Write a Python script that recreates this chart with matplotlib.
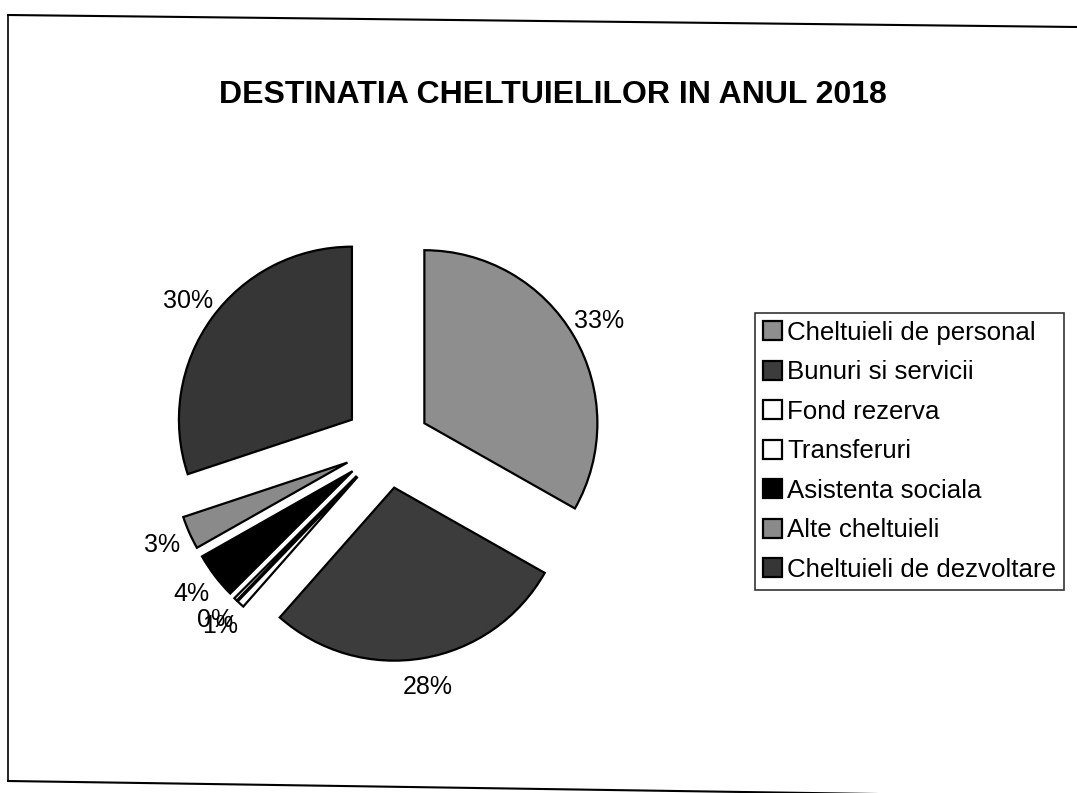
import matplotlib
matplotlib.use("Agg")
from matplotlib import pyplot as plt
from matplotlib.lines import Line2D

plt.rcParams['font.family'] = ['Liberation Sans', 'DejaVu Sans']

# data
categorii = ['Cheltuieli de personal', 'Bunuri si servicii', 'Fond rezerva',
             'Transferuri', 'Asistenta sociala', 'Alte cheltuieli',
             'Cheltuieli de dezvoltare']
procente = [33.2, 28.3, 0.7, 0.3, 4.3, 3.1, 30.1]
culori = ['#8e8e8e', '#3c3c3c', 'white', 'white', 'black', '#8a8a8a', '#363636']
titlu = 'DESTINATIA CHELTUIELILOR IN ANUL 2018'

W, H = 1077, 793
fig = plt.figure(figsize=(W/100, H/100), dpi=100)

# pie: centre (387,445) px, radius 173 px
r_px = 173
cx, cy = 387, 445
half = 1.5 * r_px
ax = fig.add_axes([(cx-half)/W, (H-cy-half)/H, 2*half/W, 2*half/H])

wedges, texts, autotexts = ax.pie(
    procente, colors=culori, startangle=90, counterclock=False,
    explode=[0.25]*len(procente), radius=1,
    autopct='%1.0f%%', pctdistance=1.17,
    wedgeprops=dict(edgecolor='black', linewidth=1.6),
    textprops=dict(fontsize=18, color='black'))
ax.set_xlim(-1.5, 1.5)
ax.set_ylim(-1.5, 1.5)
ax.set_aspect('equal')
ax.axis('off')

fig.text(553/W, 1-95/H, titlu, ha='center', va='center',
         fontsize=23, fontweight='bold')

leg = fig.legend(wedges, categorii, loc='upper left',
                 bbox_to_anchor=(755/W, 1-313/H), fontsize=18.6,
                 frameon=True, fancybox=False, edgecolor='black',
                 handlelength=0.75, handleheight=0.75, handletextpad=0.2,
                 labelspacing=0.6, borderpad=0.3, borderaxespad=0)
leg.get_frame().set_linewidth(1.2)

# scanned page border (slightly tilted)
fig.add_artist(Line2D([8/W, 8/W], [1-15/H, 1-781/H], color='black', lw=1.2))
fig.add_artist(Line2D([8/W, 1.0], [1-15/H, 1-27/H], color='black', lw=1.5))
fig.add_artist(Line2D([8/W, 1.0], [1-781/H, 1-797/H], color='black', lw=1.5))

plt.savefig('out.png', dpi=100)
